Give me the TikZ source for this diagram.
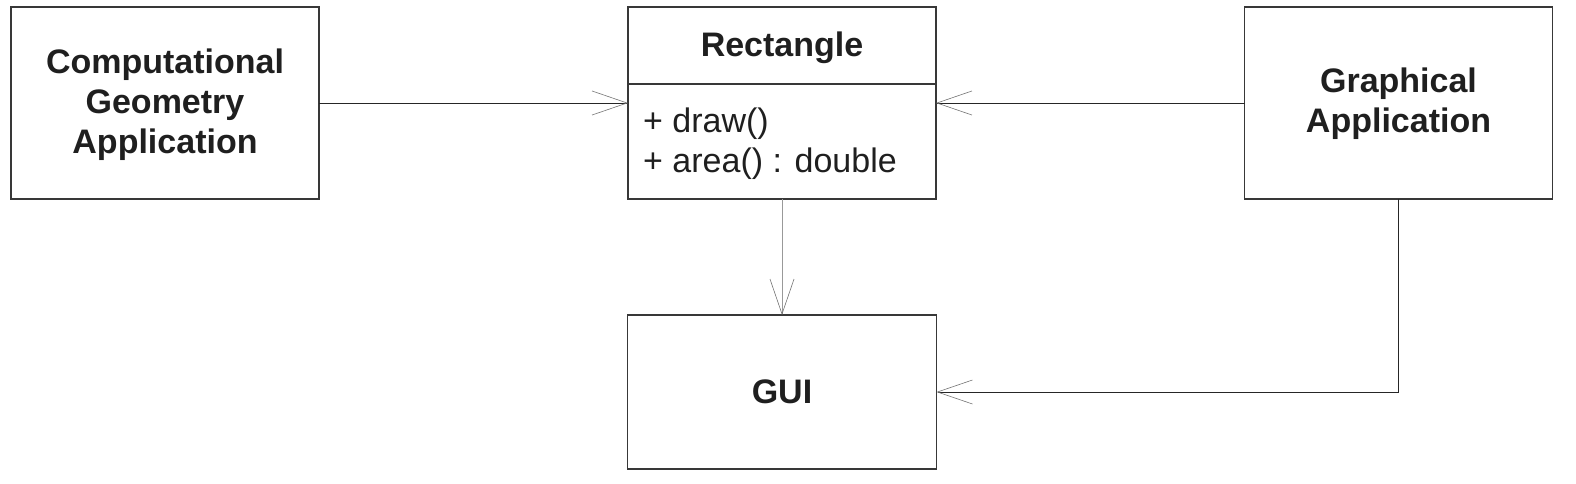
\documentclass[tikz,border=0pt]{standalone}
\usepackage{fontspec}
\setmainfont{Liberation Sans}
\usetikzlibrary{arrows.meta}
\tikzset{
  box/.style={draw=black!78, line width=1.2pt, minimum width=308pt, inner sep=0pt, outer sep=0pt},
  boxtext/.style={font=\fontsize{34}{40}\selectfont\bfseries, align=center, inner sep=0pt, text=black!88},
  memtext/.style={font=\fontsize{34}{40}\selectfont, align=left, inner sep=0pt, text=black!88, anchor=west},
  conn/.style={draw=black!85, line width=0.9pt, -{Straight Barb[length=35pt,width=24pt,line width=0.6pt,color=black!55]}},
  connlight/.style={draw=black!40, line width=0.9pt, -{Straight Barb[length=35pt,width=24pt,line width=0.6pt,color=black!55]}}
}
\begin{document}
\begin{tikzpicture}[x=1pt,y=-1pt]
\useasboundingbox (0,0) rectangle (1576,484);
\node[box, minimum height=192pt] (cga) at (165,103) {};
\node[boxtext] (cgat) at (165,105) {Computational\\Geometry\\Application};
\node[box, minimum height=192pt] (rect) at (782,103) {};
\coordinate (sep) at (782,84);
\draw[draw=black!78, line width=1.2pt] (rect.west |- sep) -- (rect.east |- sep);
\node[boxtext] (rectt) at (782,48) {Rectangle};
\node[memtext] (meth) at (643,144) {+ draw()\\+ area() : double};
\node[box, minimum height=192pt] (gra) at (1398.5,103) {};
\node[boxtext] (grat) at (1398.5,104) {Graphical\\Application};
\node[box, minimum width=309pt, minimum height=154pt] (gui) at (782,392) {};
\node[boxtext] (guit) at (782,392) {GUI};
\draw[conn] (cga.east) -- (rect.west);
\draw[conn] (gra.west) -- (rect.east);
\draw[connlight] (rect.south) -- (gui.north);
\draw[conn] (gra.south) |- (gui.east);
\end{tikzpicture}
\end{document}
